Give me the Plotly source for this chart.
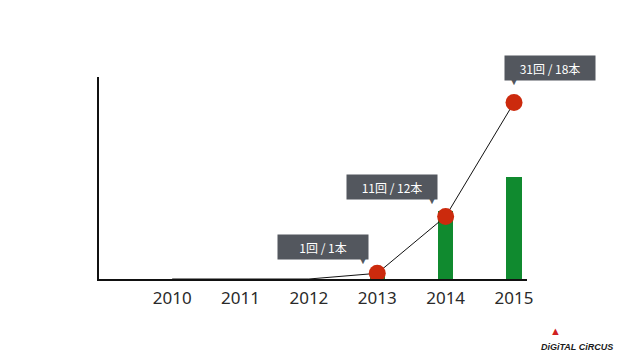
import plotly.graph_objects as go

years = [2010, 2011, 2012, 2013, 2014, 2015]
events = [0, 0, 0, 1, 11, 31]      # 回 (line)
talks = [0, 0, 0, 1, 12, 18]       # 本 (bars)
tick_labels = ["2010", "2011", "2012", "2013", "2014", "2015"]

BOX = "#53575e"
fig = go.Figure()

fig.add_trace(go.Bar(x=years, y=talks, width=0.22, marker_color="#108a2f",
                     marker_line_width=0, showlegend=False, hoverinfo="skip"))
fig.add_trace(go.Scatter(x=years, y=events, mode="lines",
                         line=dict(color="#111111", width=1), showlegend=False))
mx = [y for y, v in zip(years, events) if v > 0]
my = [v for v in events if v > 0]
fig.add_trace(go.Scatter(x=mx, y=my, mode="markers",
                         marker=dict(color="#cc2a0d", size=17, line_width=0),
                         showlegend=False))

# callout labels
offsets = {2013: (-54, 26, 40, -13), 2014: (-54, 29, 40, -13), 2015: (36, 35, -36, -13)}
for y, e, t in zip(years, events, talks):
    if e <= 0:
        continue
    xs, ys, px, py = offsets[y]
    fig.add_annotation(x=y, y=e, xref="x", yref="y", text=f"{e}回 / {t}本",
                       showarrow=False, xshift=xs, yshift=ys, bgcolor=BOX,
                       width=84, height=18, borderpad=3,
                       font=dict(color="white", size=12, family="Noto Sans CJK JP"))
    fig.add_annotation(x=y, y=e, xref="x", yref="y", text="▼",
                       showarrow=False, xshift=xs + px, yshift=ys + py,
                       font=dict(color=BOX, size=10))

# logo
fig.add_annotation(x=1.205, y=-0.37, xref="paper", yref="paper", xanchor="right",
                   yanchor="bottom", text="<b><i>DiGiTAL CiRCUS</i></b>", showarrow=False,
                   font=dict(color="#1a1a1a", size=9, family="Liberation Sans"))
fig.add_annotation(x=1.085, y=-0.30, xref="paper", yref="paper", text="▲",
                   showarrow=False, font=dict(color="#d02020", size=11))

fig.update_layout(
    width=622, height=343,
    margin=dict(l=91, r=103, t=69, b=72),
    paper_bgcolor="white", plot_bgcolor="white",
    bargap=0,
    xaxis=dict(range=[2008.93, 2015.19], tickmode="array", tickvals=years,
               ticktext=tick_labels, showgrid=False, zeroline=False,
               showline=True, linecolor="#111111", linewidth=2, ticks="",
               tickfont=dict(size=17, color="#2a2a2a", family="Noto Sans"),
               ticklabelstandoff=3),
    yaxis=dict(range=[0, 35.5], showgrid=False, zeroline=False, showline=True,
               linecolor="#111111", linewidth=2, showticklabels=False, ticks=""),
)

fig.write_html("out.html")
